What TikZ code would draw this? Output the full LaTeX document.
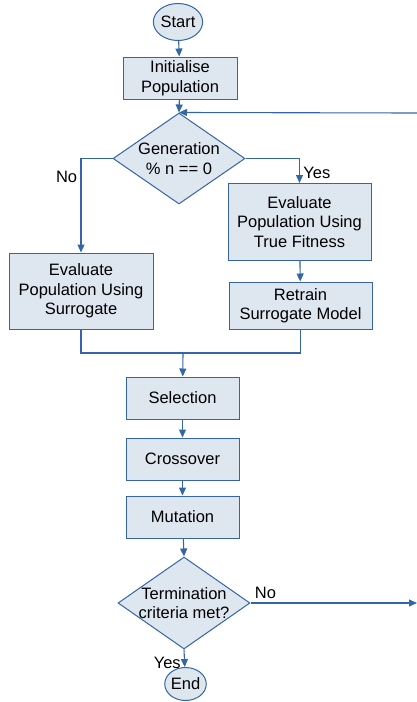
\documentclass[tikz,border=0pt]{standalone}
\usepackage{fontspec}
\setmainfont{Liberation Sans}
\usetikzlibrary{arrows.meta}
\usetikzlibrary{shapes.geometric}
\definecolor{flowline}{HTML}{3465A4}
\definecolor{flowfill}{HTML}{DEE6EF}

\begin{document}
\begin{tikzpicture}[x=1pt, y=-1pt,
    every node/.style={font=\fontsize{16.5}{19.5}\selectfont, align=center},
    process/.style={draw=flowline, fill=flowfill, line width=1pt, rectangle, inner sep=0pt},
    terminal/.style={draw=flowline, fill=flowfill, line width=1pt, ellipse, inner sep=0pt},
    decision/.style={draw=flowline, fill=flowfill, line width=1pt, diamond, inner sep=0pt},
    flow/.style={draw=flowline, line width=1.1pt, -{Triangle[length=8pt, width=7pt]}},
    flowplain/.style={draw=flowline, line width=1.1pt}]
    \useasboundingbox (0, 0) rectangle (417, 702);
    \node[terminal, minimum width=44, minimum height=37] (start) at (178, 22) {Start};
    \node[process, minimum width=114, minimum height=42] (init) at (180, 78) {Initialise\\Population};
    \node[decision, minimum width=132, minimum height=91] (gen) at (179, 158.5) {};
    \node (gentext) at (gen.center) {Generation\\\% n == 0};
    \node[process, minimum width=144, minimum height=76] (evalsur) at (81, 291) {Evaluate\\Population Using\\Surrogate};
    \node[process, minimum width=143, minimum height=77] (evaltrue) at (299.5, 222) {Evaluate\\Population Using\\True Fitness};
    \node[process, minimum width=143, minimum height=47] (retrain) at (300.5, 305.5) {Retrain\\Surrogate Model};
    \node[process, minimum width=113, minimum height=42] (select) at (182.5, 398) {Selection};
    \node[process, minimum width=113, minimum height=42] (cross) at (182.5, 459) {Crossover};
    \node[process, minimum width=113, minimum height=42] (mutate) at (182.5, 517) {Mutation};
    \node[decision, minimum width=132, minimum height=92] (term) at (184, 603) {};
    \node (termtext) at (term.center) {Termination\\criteria met?};
    \node[terminal, minimum width=41, minimum height=33] (end) at (185.5, 684) {End};
    \coordinate (loopin) at (417, 113);
    \coordinate (loopout) at (417, 603);
    \coordinate (merge) at (183, 353);
    % connectors
    \draw[flow] (start) -- (init);
    \draw[flow] (init) -- (gen.north);
    \draw[flow] (loopin) -- (gen.north);
    \draw[flow] (gen.west) -| node[pos=0.6, left] {No} (evalsur.north);
    \draw[flow] (gen.east) -| node[pos=0.8, right] {Yes} (evaltrue.north);
    \draw[flow] (evaltrue) -- (retrain);
    \draw[flowplain] (evalsur.south) |- (merge) -| (retrain.south);
    \draw[flow] (merge) -- (select);
    \draw[flow] (select) -- (cross);
    \draw[flow] (cross) -- (mutate);
    \draw[flow] (mutate) -- (term.north);
    \draw[flow] (term.east) -- node[pos=0.09, above] {No} (loopout);
    \draw[flow] (term.south) -- node[pos=0.75, left] {Yes} (end);
\end{tikzpicture}
\end{document}
